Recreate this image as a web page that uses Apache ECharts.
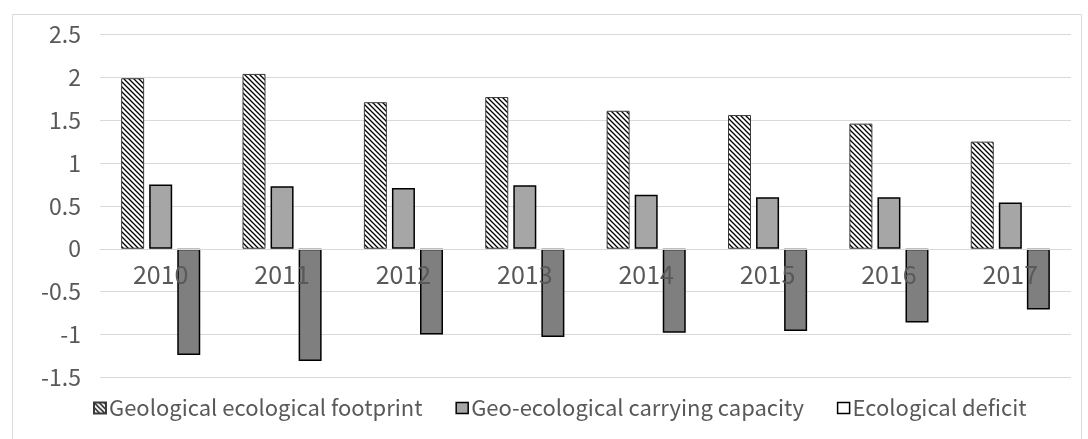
<!DOCTYPE html>
<html>
<head>
<meta charset="utf-8">
<script src="https://cdn.jsdelivr.net/npm/echarts@6/dist/echarts.min.js"></script>
<style>
  html, body { margin: 0; padding: 0; background: #fff; }
  #chart { width: 1088px; height: 439px; }
</style>
</head>
<body>
<div id="chart"></div>
<script>
// Categories and series values
const years = ['2010', '2011', '2012', '2013', '2014', '2015', '2016', '2017'];
const footprint = [1.99, 2.04, 1.71, 1.77, 1.61, 1.56, 1.46, 1.25];
const capacity = [0.75, 0.73, 0.71, 0.74, 0.63, 0.60, 0.60, 0.54];
const deficit = [-1.24, -1.31, -1.00, -1.03, -0.98, -0.96, -0.86, -0.71];
const seriesNames = ['Geological ecological footprint', 'Geo-ecological carrying capacity', 'Ecological deficit'];

// Diagonal hatch fill for the footprint bars
function hatchPattern() {
  const s = 5;
  const c = document.createElement('canvas');
  c.width = s; c.height = s;
  const g = c.getContext('2d');
  g.fillStyle = '#fff';
  g.fillRect(0, 0, s, s);
  g.strokeStyle = '#000';
  g.lineWidth = 1.3;
  g.beginPath();
  g.moveTo(-1, -1); g.lineTo(s + 1, s + 1);
  g.moveTo(-1, s - 1); g.lineTo(1, s + 1);
  g.moveTo(s - 1, -1); g.lineTo(s + 1, 1);
  g.stroke();
  return { image: c, repeat: 'repeat' };
}

const FONT = '"Noto Sans CJK SC", "Noto Sans", sans-serif';
const TEXT = '#595959';
const GRID = '#d9d9d9';

const Y_MIN = -1.5, Y_MAX = 2.5;
const GRID_TOP = 34.5, GRID_BOTTOM = 61.7, CHART_H = 439;
// move the category axis up to the value 0 line
const plotH = CHART_H - GRID_TOP - GRID_BOTTOM;
const zeroShift = -plotH * (0 - Y_MIN) / (Y_MAX - Y_MIN);

const chart = echarts.init(document.getElementById('chart'), null, { renderer: 'canvas' });
chart.setOption({
  animation: false,
  backgroundColor: '#fff',
  textStyle: { fontFamily: FONT },
  graphic: [{
    type: 'rect',
    left: 10, top: 12,
    shape: { width: 1069, height: 440 },
    style: { fill: 'none', stroke: GRID, lineWidth: 1 },
    silent: true
  }],
  grid: { left: 100, right: 17, top: GRID_TOP, bottom: GRID_BOTTOM },
  legend: {
    left: 93, top: 397, padding: 0,
    itemWidth: 12, itemHeight: 11, itemGap: 33,
    icon: 'rect',
    textStyle: { fontFamily: FONT, fontSize: 22, color: TEXT, padding: [0, 0, 0, -2] },
    data: [
      { name: seriesNames[0] },
      { name: seriesNames[1], itemStyle: { color: '#a6a6a6', borderColor: '#000', borderWidth: 1.5 } },
      { name: seriesNames[2], itemStyle: { color: '#fff', borderColor: '#000', borderWidth: 1.5 } }
    ]
  },
  xAxis: {
    type: 'category',
    data: years,
    z: 10,
    offset: zeroShift,
    axisLine: { show: true, onZero: false, lineStyle: { color: GRID, width: 1 } },
    axisTick: { show: false },
    axisLabel: { color: TEXT, fontSize: 25, fontFamily: FONT, margin: 13 },
    splitLine: { show: false }
  },
  yAxis: {
    type: 'value',
    min: Y_MIN, max: Y_MAX, interval: 0.5,
    axisLine: { show: false },
    axisTick: { show: false },
    axisLabel: { color: TEXT, fontSize: 23, fontFamily: FONT, margin: 19 },
    splitLine: { lineStyle: { color: GRID, width: 1 } }
  },
  series: [
    {
      name: seriesNames[0], type: 'bar', data: footprint,
      barWidth: 23, barGap: '22%',
      itemStyle: { color: hatchPattern(), borderColor: '#3a3a3a', borderWidth: 1 }
    },
    {
      name: seriesNames[1], type: 'bar', data: capacity,
      barWidth: 23, barGap: '22%',
      itemStyle: { color: '#a6a6a6', borderColor: '#000', borderWidth: 1.5 }
    },
    {
      name: seriesNames[2], type: 'bar', data: deficit,
      barWidth: 23, barGap: '22%',
      itemStyle: { color: '#7f7f7f', borderColor: '#000', borderWidth: 1.5 }
    }
  ]
});
</script>
</body>
</html>
